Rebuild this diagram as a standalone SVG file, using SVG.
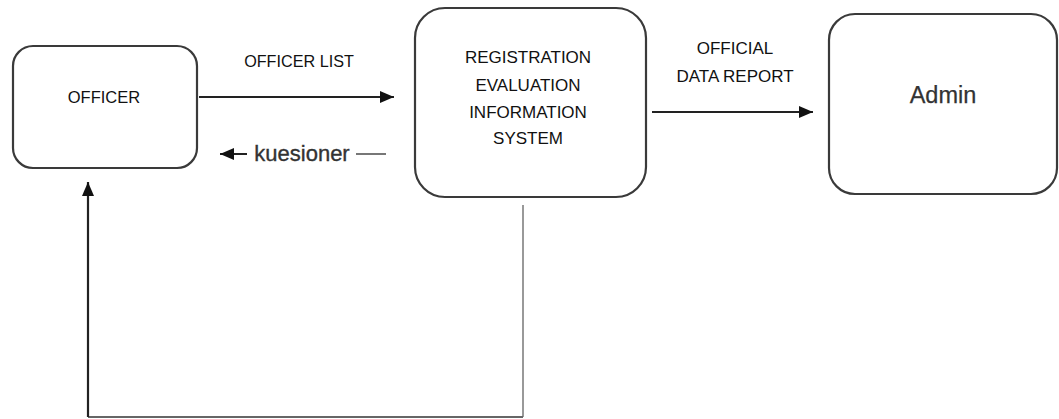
<svg xmlns="http://www.w3.org/2000/svg" width="1059" height="419" viewBox="0 0 1059 419">
  <style>
    .box { fill: #ffffff; stroke: #3a3a3a; stroke-width: 2.2; }
    .lbl { font-family: "Liberation Sans", Arial, sans-serif; fill: #111; text-anchor: middle; }
    .flow { fill: none; stroke: #222; stroke-width: 2.2; }
    .soft { font-family: "Liberation Sans", Arial, sans-serif; fill: #333; stroke: #333; stroke-width: 0.35; text-anchor: middle; }
  </style>
  <defs>
    <marker id="head" viewBox="0 0 14 12" refX="14" refY="6" markerWidth="14" markerHeight="12" markerUnits="userSpaceOnUse" orient="auto-start-reverse">
      <path d="M0,0 L14,6 L0,12 Z" fill="#111"/>
    </marker>
  </defs>
  <rect width="1059" height="419" fill="#ffffff"/>

  <g id="officer">
    <rect class="box" x="13" y="46" width="184" height="122" rx="20"/>
    <text class="lbl" x="104" y="103" font-size="16.5">OFFICER</text>
  </g>

  <g id="system">
    <rect class="box" x="415" y="8" width="231" height="189" rx="30"/>
    <text class="lbl" x="528" y="63" font-size="17">REGISTRATION</text>
    <text class="lbl" x="528" y="91" font-size="17">EVALUATION</text>
    <text class="lbl" x="528" y="118" font-size="17">INFORMATION</text>
    <text class="lbl" x="528" y="144" font-size="17">SYSTEM</text>
  </g>

  <g id="admin">
    <rect class="box" x="829" y="14" width="228" height="180" rx="26"/>
    <text class="soft" x="943" y="103" font-size="23.5" style="stroke-width:0.25">Admin</text>
  </g>

  <g id="connectors">
    <!-- officer list: officer to system -->
    <line class="flow" x1="199" y1="97" x2="394" y2="97" marker-end="url(#head)"/>
    <text class="lbl" x="299" y="67" font-size="16.2">OFFICER LIST</text>

    <!-- questionnaire: system back to officer -->
    <line class="flow" x1="220" y1="154" x2="247" y2="154" marker-start="url(#head)" style="stroke-width:2"/>
    <line x1="356" y1="154" x2="386" y2="154" stroke="#555" stroke-width="1.6"/>
    <text class="soft" x="302" y="161" font-size="22">kuesioner</text>

    <!-- official data report: system to admin -->
    <line class="flow" x1="652" y1="112" x2="813" y2="112" marker-end="url(#head)"/>
    <text class="lbl" x="735" y="54" font-size="17">OFFICIAL</text>
    <text class="lbl" x="735" y="82" font-size="17">DATA REPORT</text>

    <!-- return loop from system down and back up to officer -->
    <line x1="523" y1="205" x2="523" y2="417" stroke="#999" stroke-width="2"/>
    <line x1="523" y1="417" x2="88" y2="417" stroke="#666" stroke-width="2"/>
    <line class="flow" x1="88" y1="417" x2="88" y2="182" marker-end="url(#head)"/>
  </g>
</svg>
